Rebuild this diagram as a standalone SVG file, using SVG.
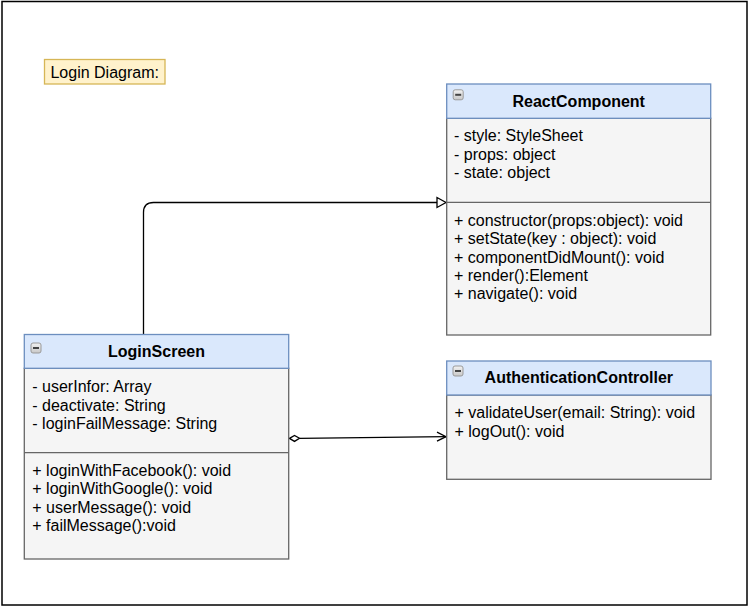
<svg xmlns="http://www.w3.org/2000/svg" width="751" height="609" viewBox="0 0 751 609">
<style>
text{font-family:"Liberation Sans",Arial,sans-serif;font-size:16px;fill:#000}
.t{font-weight:bold;text-anchor:middle}
.hd{fill:#dae8fc;stroke:#6c8ebf;stroke-width:1.3}
.bd{fill:#f5f5f5;stroke:#666666;stroke-width:1.3}
.dv{stroke:#666666;stroke-width:1.3;fill:none}
.ln{fill:none;stroke:#000;stroke-width:1.3}
</style>
<defs>
<linearGradient id="ig" x1="0" y1="0" x2="0" y2="1">
<stop offset="0" stop-color="#f2f2f2"/>
<stop offset="1" stop-color="#c8c8c8"/>
</linearGradient>
<g id="icon">
<rect x="0.5" y="0.5" width="10" height="10" rx="2" fill="url(#ig)" stroke="#9a9a9a" stroke-width="1"/>
<rect x="2.5" y="4.5" width="6" height="2" fill="#444"/>
</g>
</defs>
<rect x="0" y="0" width="751" height="609" fill="#fff"/>
<rect x="2" y="1.5" width="745" height="603.5" fill="none" stroke="#000" stroke-width="1.5"/>
<g id="label">
<rect x="44.5" y="59.5" width="120.5" height="24.5" fill="#fff2cc" stroke="#d6b656" stroke-width="1.3"/>
<text x="104.7" y="78.3" text-anchor="middle">Login Diagram:</text>
</g>
<g id="connectors">
<path class="ln" d="M143.5 334 V212.5 Q143.5 202.5 153.5 202.5 H437"/>
<path d="M437 197.5 L446 202.5 L437 207.5 Z" fill="#fff" stroke="#000" stroke-width="1.3"/>
<path class="ln" d="M299.5 438.3 L446 436.7"/>
<path d="M289.5 438.4 L294.5 435.4 L299.5 438.3 L294.5 441.4 Z" fill="#fff" stroke="#000" stroke-width="1.3"/>
<path class="ln" d="M437 432.2 L446 436.7 L437 441.2"/>
</g>
<g id="ReactComponent">
<rect class="bd" x="446.7" y="118.3" width="264" height="216.7"/>
<rect class="hd" x="446.7" y="84" width="264" height="34.3"/>
<line class="dv" x1="446.7" y1="202.3" x2="710.7" y2="202.3"/>
<use href="#icon" x="452.7" y="89.3"/>
<text class="t" x="578.7" y="106.7">ReactComponent</text>
<text x="454" y="141">- style: StyleSheet</text>
<text x="454" y="159.7">- props: object</text>
<text x="454" y="178.2">- state: object</text>
<text x="454" y="225.8">+ constructor(props:object): void</text>
<text x="454" y="244.2">+ setState(key : object): void</text>
<text x="454" y="262.6">+ componentDidMount(): void</text>
<text x="454" y="281">+ render():Element</text>
<text x="454" y="299.4">+ navigate(): void</text>
</g>
<g id="LoginScreen">
<rect class="bd" x="24.3" y="368.3" width="264.4" height="190.7"/>
<rect class="hd" x="24.3" y="334.5" width="264.4" height="33.8"/>
<line class="dv" x1="24.3" y1="452.7" x2="288.7" y2="452.7"/>
<use href="#icon" x="30.5" y="342.5"/>
<text class="t" x="156.5" y="357.3">LoginScreen</text>
<text x="32.3" y="392.3">- userInfor: Array</text>
<text x="32.3" y="410.7">- deactivate: String</text>
<text x="32.3" y="429.1">- loginFailMessage: String</text>
<text x="32.3" y="475.7">+ loginWithFacebook(): void</text>
<text x="32.3" y="494.2">+ loginWithGoogle(): void</text>
<text x="32.3" y="512.7">+ userMessage(): void</text>
<text x="32.3" y="531.2">+ failMessage():void</text>
</g>
<g id="AuthenticationController">
<rect class="bd" x="446.7" y="395" width="264.3" height="84.3"/>
<rect class="hd" x="446.7" y="361" width="264.3" height="34"/>
<use href="#icon" x="452.5" y="365.5"/>
<text class="t" x="578.8" y="383.3">AuthenticationController</text>
<text x="454.5" y="418.3">+ validateUser(email: String): void</text>
<text x="454.5" y="436.8">+ logOut(): void</text>
</g>
</svg>
